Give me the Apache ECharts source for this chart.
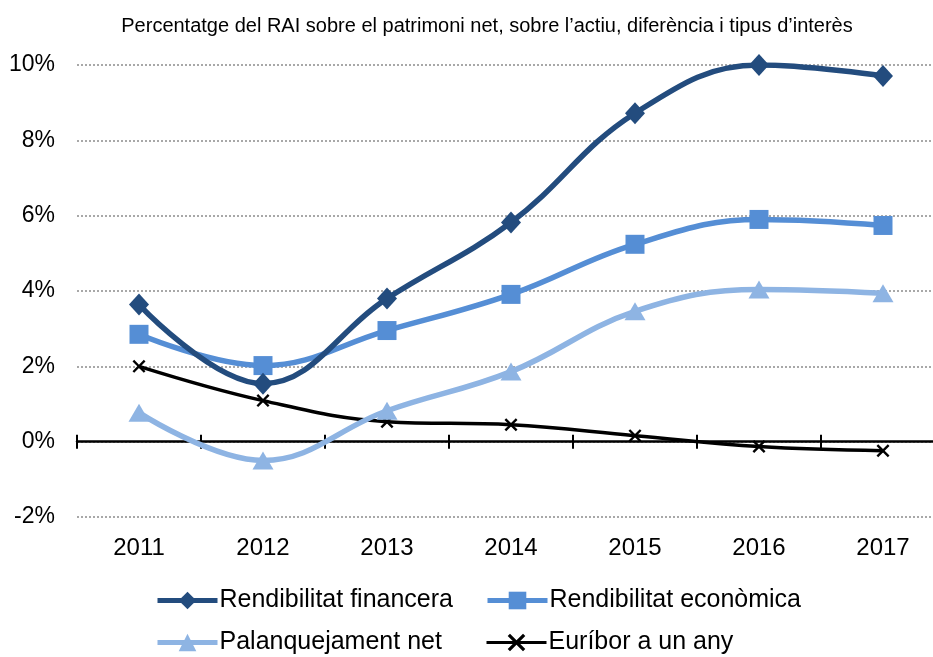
<!DOCTYPE html>
<html><head><meta charset="utf-8">
<script src="https://cdn.jsdelivr.net/npm/echarts@6/dist/echarts.min.js"></script>
<style>html,body{margin:0;padding:0;background:#fff}#c{width:933px;height:657px}</style>
</head><body><div id="c"></div>
<script>
var years = ['2011','2012','2013','2014','2015','2016','2017'];
var rendFinancera = [3.64, 1.54, 3.80, 5.82, 8.72, 10.0, 9.71];
var rendEconomica = [2.85, 2.02, 2.95, 3.91, 5.24, 5.90, 5.74];
var palanquejament = [0.77, -0.50, 0.82, 1.86, 3.46, 4.04, 3.94];
var euribor = [2.0, 1.09, 0.53, 0.45, 0.16, -0.13, -0.24];
var yTicks = [-2, 0, 2, 4, 6, 8, 10];
var subtitle = 'Percentatge del RAI sobre el patrimoni net, sobre l\u2019actiu, difer\u00e8ncia i tipus d\u2019inter\u00e8s';

var FONT = '"Liberation Sans", Arial, sans-serif';
var xSym = 'path://M0,1.3 L1.3,0 L5,3.7 L8.7,0 L10,1.3 L6.3,5 L10,8.7 L8.7,10 L5,6.3 L1.3,10 L0,8.7 L3.7,5 Z';

function legend(name, left, top, lw) {
  return {
    data: [name], left: left, top: top, itemWidth: 60, itemHeight: 22, itemGap: 0,
    padding: 0, lineStyle: {width: lw},
    textStyle: {fontFamily: FONT, fontSize: 25, color: '#000', padding: [0, 0, 0, -3]}
  };
}

var chart = echarts.init(document.getElementById('c'));
chart.setOption({
  animation: false,
  title: {
    text: subtitle, left: 482, top: 11, textAlign: 'center',
    textStyle: {fontFamily: FONT, fontSize: 20, fontWeight: 'normal', color: '#000'}
  },
  legend: [
    legend('Rendibilitat financera', 155, 588, 5),
    legend('Rendibilitat econ\u00f2mica', 485, 588, 5),
    legend('Palanquejament net', 155, 630, 5),
    legend('Eur\u00edbor a un any', 485, 630, 3)
  ],
  grid: {left: 77, width: 868, top: 65, bottom: 140, outerBoundsMode: 'none', containLabel: false},
  xAxis: [{
    type: 'category', data: years, position: 'bottom',
    axisLine: {show: false, onZero: false}, axisTick: {show: false},
    axisLabel: {fontFamily: FONT, fontSize: 24, color: '#000', margin: 19}
  }, {
    type: 'category', data: years, position: 'bottom',
    axisLine: {show: true, onZero: true, onZeroAxisIndex: 0, lineStyle: {color: '#000', width: 2.5}},
    axisTick: {show: true, inside: false, length: 7, lineStyle: {color: '#000', width: 2}},
    axisLabel: {show: false}
  }, {
    type: 'category', data: years, position: 'bottom',
    axisLine: {show: false, onZero: true, onZeroAxisIndex: 1},
    axisTick: {show: true, inside: true, length: 7, lineStyle: {color: '#000', width: 2}},
    axisLabel: {show: false}
  }],
  yAxis: [{
    type: 'value', min: -2, max: 10, interval: 2,
    axisLine: {show: false}, axisTick: {show: false},
    axisLabel: {fontFamily: FONT, fontSize: 23, color: '#000', margin: 22,
      formatter: function (v) { return yTicks.indexOf(v) >= 0 ? v + '%' : ''; }},
    splitLine: {lineStyle: {color: '#8c8c8c', width: 1.5, type: [2, 2]}}
  }, {
    type: 'value', min: -2, max: 10, interval: 2, show: false,
    splitLine: {show: false}
  }],
  series: [{
    name: 'Eur\u00edbor a un any', type: 'line', data: euribor, smooth: 0.4,
    symbol: xSym, symbolSize: 13, z: 2,
    lineStyle: {color: '#000', width: 3.5}, itemStyle: {color: '#000'}
  }, {
    name: 'Palanquejament net', type: 'line', data: palanquejament, smooth: 0.4,
    symbol: 'triangle', symbolSize: [21, 18], z: 3,
    lineStyle: {color: '#8EB4E3', width: 5.5}, itemStyle: {color: '#8EB4E3'}
  }, {
    name: 'Rendibilitat econ\u00f2mica', type: 'line', data: rendEconomica, smooth: 0.4,
    symbol: 'rect', symbolSize: 19, z: 4,
    lineStyle: {color: '#558ED5', width: 5.5}, itemStyle: {color: '#558ED5'}
  }, {
    name: 'Rendibilitat financera', type: 'line', data: rendFinancera, smooth: 0.4,
    symbol: 'diamond', symbolSize: [20, 22], z: 5,
    lineStyle: {color: '#234C7E', width: 5.5}, itemStyle: {color: '#234C7E'}
  }]
});
</script></body></html>
